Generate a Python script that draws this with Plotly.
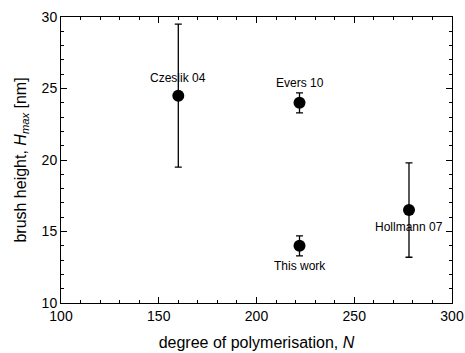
import plotly.graph_objects as go

# Brush height vs degree of polymerisation
labels = ["Czeslik 04", "Evers 10", "This work", "Hollmann 07"]
n_values = [160, 222, 222, 278]
h_max = [24.5, 24.0, 14.0, 16.5]
h_err = [5.0, 0.7, 0.7, 3.3]
label_shift = [18, 20, -20, -17]

fig = go.Figure()
fig.add_trace(go.Scatter(
    x=n_values, y=h_max, mode="markers",
    marker=dict(size=12, color="black"),
    error_y=dict(type="data", array=h_err, visible=True,
                 color="black", thickness=1.3, width=3.5),
    showlegend=False,
))

for lab, x, y, dy in zip(labels, n_values, h_max, label_shift):
    fig.add_annotation(x=x, y=y, text=lab, showarrow=False,
                       xanchor="center", yanchor="middle", yshift=dy,
                       font=dict(size=12, color="black"))

axis_common = dict(
    showline=True, linecolor="black", linewidth=1, mirror="ticks",
    ticks="inside", ticklen=6, tickcolor="black", tickwidth=1,
    showgrid=False, zeroline=False,
    tickfont=dict(size=14, color="black"),
)

fig.update_xaxes(
    range=[100, 300], tick0=100, dtick=50,
    minor=dict(dtick=10, ticks="inside", ticklen=3, tickcolor="black", showgrid=False),
    title=dict(text="degree of polymerisation, <i>N</i>",
               font=dict(size=16, color="black"), standoff=14),
    **axis_common,
)
fig.update_yaxes(
    range=[10, 30], tick0=10, dtick=5,
    minor=dict(dtick=1, ticks="inside", ticklen=3, tickcolor="black", showgrid=False),
    title=dict(text="brush height, <i>H</i><sub><i>max</i></sub> [nm]",
               font=dict(size=16, color="black"), standoff=11),
    **axis_common,
)

fig.update_layout(
    width=465, height=353,
    margin=dict(l=61, r=13, t=17, b=50, autoexpand=False),
    paper_bgcolor="white", plot_bgcolor="white",
    font=dict(family="Liberation Sans, Arial, sans-serif", color="black"),
)

fig.write_html("out.html")
